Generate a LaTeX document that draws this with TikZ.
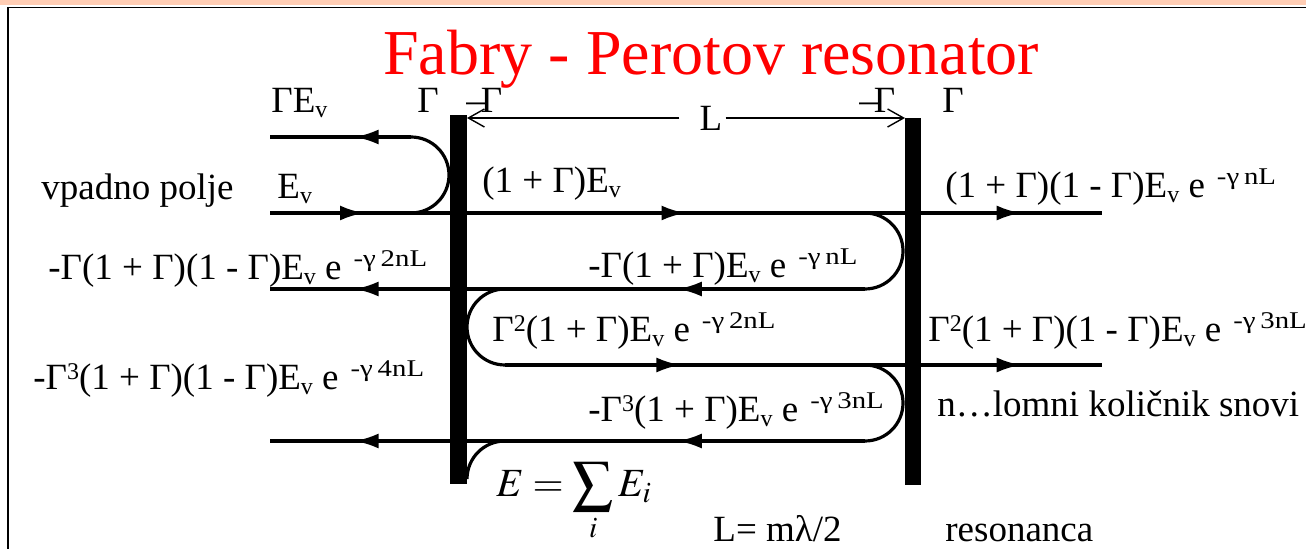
\documentclass[tikz,border=0pt]{standalone}
\usepackage{mathptmx}
\usepackage[no-math]{fontspec}
\setmainfont{Liberation Serif}
\usetikzlibrary{arrows.meta,decorations.markings}

\definecolor{stripcol}{RGB}{255,205,180}

\newcommand\Ev{E\raisebox{-2.5pt}{\fontsize{12}{12}\selectfont v}}
\newcommand\expo[1]{\hspace{6pt}\raisebox{6.5pt}{\scalebox{1.2}[1]{\fontsize{12}{12}\selectfont #1}}}
\newcommand\pow[1]{\raisebox{5pt}{\fontsize{12}{12}\selectfont #1}}

\begin{document}
\begin{tikzpicture}[x=0.5pt, y=-0.5pt,
    txt/.style={inner sep=0pt, anchor=base west, font=\fontsize{18.5}{22}\selectfont},
    ray/.style={line width=1.6pt},
    midarrow/.style={ray, postaction={decorate}, decoration={markings,
        mark=at position #1 with {\arrow{Latex[length=12pt,width=7.5pt]}}}},
    midarrow/.default=0.5,
    dimline/.style={line width=0.7pt, -{Straight Barb[length=8pt,width=9pt]}}]
  \useasboundingbox (0,0) rectangle (1306,549);
  % okvir
  \fill[stripcol] (0,0) rectangle (1306,5);
  \draw[line width=0.9pt] (8,549) -- (8,7.5) -- (1306,7.5);

  \node[txt, font=\fontsize{32}{36}\selectfont, text=red] (title) at (383,75) {Fabry - Perotov resonator};

  \def\ya{137}
  \def\yb{213}
  \def\yc{289}
  \def\yd{365}
  \def\ye{441}

  % odbito na prvem zrcalu
  \draw[midarrow=0.4] (411,\ya) -- (270,\ya);
  \draw[ray] (411,\ya) arc[start angle=90, end angle=-90, radius=19pt];

  % vpadni val
  \draw[midarrow] (270,\yb) -- (458,\yb);
  \draw[midarrow] (458,\yb) -- (913,\yb);
  \draw[midarrow=0.57] (913,\yb) -- (1102,\yb);
  \draw[ray] (865,\yb) arc[start angle=90, end angle=-90, radius=19pt];

  % drugi prehod
  \draw[midarrow=0.46] (865,\yc) -- (458,\yc);
  \draw[midarrow=0.55] (458,\yc) -- (270,\yc);
  \draw[ray] (505,\yc) arc[start angle=90, end angle=270, radius=19pt];

  % tretji prehod
  \draw[midarrow=0.43] (505,\yd) -- (913,\yd);
  \draw[midarrow=0.57] (913,\yd) -- (1102,\yd);
  \draw[ray] (865,\yd) arc[start angle=90, end angle=-90, radius=19pt];

  % cetrti prehod
  \draw[midarrow=0.46] (865,\ye) -- (458,\ye);
  \draw[midarrow=0.55] (458,\ye) -- (270,\ye);
  \draw[ray] (505,\ye) arc[start angle=90, end angle=180, radius=19pt];

  % zrcali
  \fill (450,115) rectangle (467,484);
  \fill (905,118) rectangle (921,485);

  \node[txt] (ger) at (271,113) {Γ\Ev};
  \node[txt] (gl) at (417,113) {Γ};
  \node[txt] (mgl) at (466,113) {–\kern-2pt Γ};
  \node[txt] (mgr) at (859,113) {–\kern-2pt Γ};
  \node[txt] (gr) at (942,113) {Γ};

  % dolzina L
  \node[txt, anchor=center] (len) at (711,118) {L};
  \coordinate (lenL) at (467,118);
  \coordinate (lenR) at (905,118);
  \draw[dimline] ([xshift=-10pt]len.west) -- (lenL);
  \draw[dimline] ([xshift=1.5pt]len.east) -- (lenR);

  \node[txt] (vp) at (41,200) {vpadno polje};
  \node[txt] (ev) at (277,199) {\Ev};
  \node[txt] (t1) at (482,193) {(1 + Γ)\Ev};
  \node[txt] (tr1) at (945,198) {(1 + Γ)(1 - Γ)\Ev\ e\expo{-γ\,nL}};
  \node[txt] (tl2) at (48,280) {-Γ(1 + Γ)(1 - Γ)\Ev\ e\expo{-γ\,2nL}};
  \node[txt] (tc2) at (588,278) {-Γ(1 + Γ)\Ev\ e\expo{-γ\,nL}};
  \node[txt] (tc3) at (492,342) {Γ\pow{2}(1 + Γ)\Ev\ e\expo{-γ\,2nL}};
  \node[txt] (tr3) at (928,342) {Γ\pow{2}(1 + Γ)(1 - Γ)\Ev\ e\expo{-γ\,3nL}};
  \node[txt] (tl4) at (33,390) {-Γ\pow{3}(1 + Γ)(1 - Γ)\Ev\ e\expo{-γ\,4nL}};
  \node[txt] (tc4) at (588,422) {-Γ\pow{3}(1 + Γ)\Ev\ e\expo{-γ\,3nL}};
  \node[txt] (tn) at (937,417) {n…lomni količnik snovi};
  \node[txt, font=\fontsize{20}{24}\selectfont] (esum) at (496,497) {$\displaystyle E=\sum_i E_i$};
  \node[txt] (lres) at (713,542) {L= mλ/2};
  \node[txt] (res) at (945,542) {resonanca};
\end{tikzpicture}
\end{document}
